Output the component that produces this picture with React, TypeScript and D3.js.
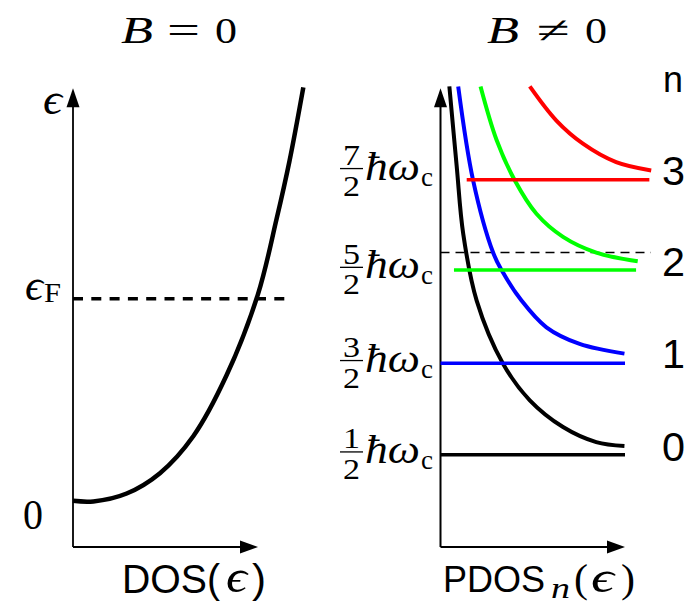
import React from 'react';
import * as d3 from 'd3';

const W = 698;
const H = 604;

// Energy in units of ħω_c ; DOS in arbitrary units (1 = axis length)
const dosCurve: [number, number][] = [
  [0, 0], [0.11, -0.006], [0.29, 0.08], [0.47, 0.30], [0.65, 0.70], [0.83, 1.36],
  [1.0, 2.24], [1.10, 3.05], [1.17, 3.68], [1.245, 4.48],
];
const fermiEnergyB0 = 2.19;
const fermiEndB0 = 1.146;
const fermiEnergyB = 2.69;
const fermiEndB = 1.14;

const levelIndex = [0, 1, 2, 3];
const levelColors = ['#000000', '#0000ff', '#00ff00', '#ff0000'];
const levelEnergies = [0.5, 1.49, 2.5, 3.48];
const levelStart = [0, 0, 0.073, 0.142];
const levelEnd = [1.0, 1.0, 1.06, 1.132];
const levelNumerators = ['1', '3', '5', '7'];
const labelEnergies = [0.53, 1.52, 2.53, 3.6];

const pdos0: [number, number][] = [[0.048, 4.49], [0.088, 3.62], [0.123, 2.895], [0.196, 2.17], [0.339, 1.486], [0.484, 1.089], [0.664, 0.80], [0.844, 0.637], [0.997, 0.594]];
const pdos1: [number, number][] = [[0.096, 4.49], [0.177, 3.47], [0.285, 2.69], [0.331, 2.50], [0.439, 2.17], [0.574, 1.88], [0.754, 1.70], [0.997, 1.595]];
const pdos2: [number, number][] = [[0.217, 4.49], [0.304, 3.91], [0.403, 3.47], [0.52, 3.11], [0.664, 2.86], [0.844, 2.69], [1.069, 2.595]];
const pdos3: [number, number][] = [[0.484, 4.49], [0.628, 4.12], [0.772, 3.87], [0.952, 3.67], [1.142, 3.58]];
const pdosCurves = [pdos0, pdos1, pdos2, pdos3];

const SERIF = "'Liberation Serif', 'DejaVu Serif', serif";
const SANS = "'Liberation Sans', Arial, sans-serif";

const T = (props: any) => <text lengthAdjust="spacingAndGlyphs" {...props} />;

export default function App() {
  const y = d3.scaleLinear().domain([-0.5, 4.5]).range([547, 85.5]);
  const xL = d3.scaleLinear().domain([0, 1]).range([73, 258]);
  const xR = d3.scaleLinear().domain([0, 1]).range([440.5, 625]);
  const yTop = y(4.47);
  const yBot = y(-0.5);

  const lineL = d3.line<[number, number]>().x(d => xL(d[0])).y(d => y(d[1])).curve(d3.curveCatmullRom.alpha(0.5));
  const lineR = d3.line<[number, number]>().x(d => xR(d[0])).y(d => y(d[1])).curve(d3.curveCatmullRom.alpha(0.5));

  const axes = (x0: number, x1: number, key: string, sw: number) => (
    <g key={key}>
      <line x1={x0} y1={yBot} x2={x0} y2={yTop + 12} stroke="#000" strokeWidth={sw} />
      <line x1={x0} y1={yBot} x2={x1 - 12} y2={yBot} stroke="#000" strokeWidth={sw} />
      <polygon points={`${x0},${yTop} ${x0 - 6.5},${yTop + 19} ${x0 + 6.5},${yTop + 19}`} fill="#000" />
      <polygon points={`${x1},${yBot} ${x1 - 18},${yBot - 6.5} ${x1 - 18},${yBot + 6.5}`} fill="#000" />
    </g>
  );

  return (
    <svg width={W} height={H} style={{ position: 'absolute', left: 0, top: 0, background: '#fff' }}>
      {/* titles */}
      <T x={121} y={43} fontFamily={SERIF} fontSize={38} fontStyle="italic" textLength={32}>B</T>
      <T x={167} y={43} fontFamily={SERIF} fontSize={38} textLength={33}>=</T>
      <T x={215} y={43} fontFamily={SERIF} fontSize={36} textLength={22}>0</T>
      <T x={487} y={43} fontFamily={SERIF} fontSize={38} fontStyle="italic" textLength={32}>B</T>
      <T x={537} y={43} fontFamily={SERIF} fontSize={38} textLength={33}>≠</T>
      <T x={585} y={43} fontFamily={SERIF} fontSize={36} textLength={22}>0</T>

      {/* left panel */}
      {axes(xL(0), xL(1), 'la', 1.8)}
      <line x1={xL(0)} x2={xL(fermiEndB0)} y1={y(fermiEnergyB0)} y2={y(fermiEnergyB0)} stroke="#000" strokeWidth={3.5} strokeDasharray="10,8.3" />
      <path d={lineL(dosCurve) || ''} fill="none" stroke="#000" strokeWidth={4.5} />
      <T x={43} y={y(4.47) + 26} fontFamily={SERIF} fontSize={44} fontStyle="italic" textLength={19}>ϵ</T>
      <T x={25} y={y(fermiEnergyB0) + 1} fontFamily={SERIF} fontSize={44} fontStyle="italic" textLength={18}>ϵ</T>
      <T x={44} y={y(fermiEnergyB0) + 3} fontFamily={SERIF} fontSize={27} textLength={17}>F</T>
      <T x={23} y={y(0) + 28} fontFamily={SERIF} fontSize={42} textLength={20}>0</T>
      <T x={122} y={593} fontFamily={SANS} fontSize={41} textLength={98}>DOS(</T>
      <T x={226} y={592} fontFamily={SERIF} fontSize={46} fontStyle="italic" textLength={21}>ϵ</T>
      <T x={252} y={593} fontFamily={SANS} fontSize={41} textLength={14}>)</T>

      {/* right panel */}
      {axes(xR(0), xR(1), 'ra', 2)}
      <line x1={xR(0)} x2={xR(fermiEndB)} y1={y(fermiEnergyB)} y2={y(fermiEnergyB)} stroke="#000" strokeWidth={1.6} strokeDasharray="9,6" />
      {levelIndex.map(i => (
        <g key={'lv' + i}>
          <line x1={xR(levelStart[i])} x2={xR(levelEnd[i])} y1={y(levelEnergies[i])} y2={y(levelEnergies[i])} stroke={levelColors[i]} strokeWidth={3.5} />
          <path d={lineR(pdosCurves[i]) || ''} fill="none" stroke={levelColors[i]} strokeWidth={4} />
        </g>
      ))}
      {levelIndex.map(i => {
        const last = pdosCurves[i][pdosCurves[i].length - 1];
        return (
          <T key={'n' + i} x={662} y={y(last[1]) + 14.5} fontFamily={SANS} fontSize={40} textLength={23}>{String(levelIndex[i])}</T>
        );
      })}
      <T x={663} y={92} fontFamily={SANS} fontSize={36} textLength={20}>n</T>
      {levelIndex.map(i => {
        const by = y(labelEnergies[i]);
        return (
          <g key={'fl' + i}>
            <T x={343} y={by - 3.5} fontFamily={SERIF} fontSize={30} textLength={17}>{levelNumerators[i]}</T>
            <line x1={340} x2={363} y1={by} y2={by} stroke="#000" strokeWidth={1.3} />
            <T x={343} y={by + 27} fontFamily={SERIF} fontSize={30} textLength={17}>2</T>
            <T x={365} y={by + 11} fontFamily={SERIF} fontSize={40} fontStyle="italic" textLength={55}>ħω</T>
            <T x={421} y={by + 17} fontFamily={SERIF} fontSize={28} textLength={12}>c</T>
          </g>
        );
      })}
      <T x={443} y={592} fontFamily={SANS} fontSize={37} textLength={102}>PDOS</T>
      <T x={551} y={598} fontFamily={SERIF} fontSize={30} fontStyle="italic" textLength={19}>n</T>
      <T x={574} y={592} fontFamily={SERIF} fontSize={40} textLength={14}>(</T>
      <T x={591} y={592} fontFamily={SERIF} fontSize={44} fontStyle="italic" textLength={23}>ϵ</T>
      <T x={621} y={592} fontFamily={SERIF} fontSize={40} textLength={14}>)</T>
    </svg>
  );
}
